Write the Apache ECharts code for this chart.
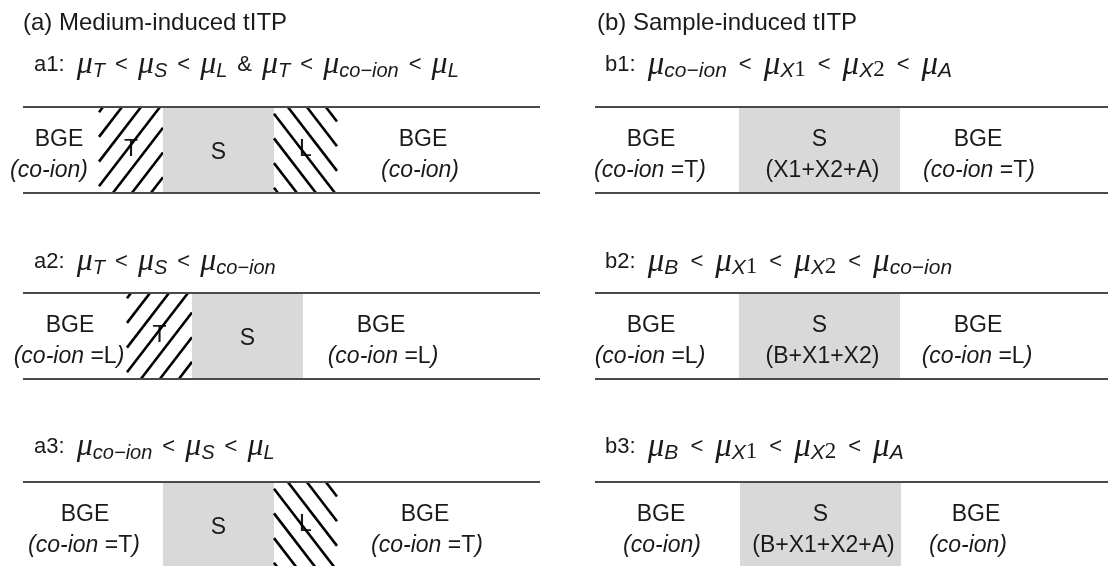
<!DOCTYPE html>
<html><head><meta charset="utf-8">
<script src="https://cdn.jsdelivr.net/npm/echarts@6/dist/echarts.min.js"></script>
<style>html,body{margin:0;padding:0;background:#fff}#c{width:1108px;height:566px}</style>
</head><body><div id="c"></div>
<script>
// ---------------- data ----------------
const panelTitles = ['(a) Medium-induced tITP', '(b) Sample-induced tITP'];
const caseIds = ['a1', 'a2', 'a3', 'b1', 'b2', 'b3'];
const caseConditions = [
  ['T', '<', 'S', '<', 'L', '&', 'T', '<', 'co−ion', '<', 'L'],
  ['T', '<', 'S', '<', 'co−ion'],
  ['co−ion', '<', 'S', '<', 'L'],
  ['co−ion', '<', 'X1', '<', 'X2', '<', 'A'],
  ['B', '<', 'X1', '<', 'X2', '<', 'co−ion'],
  ['B', '<', 'X1', '<', 'X2', '<', 'A']
];
// capillary extent along the separation axis for each case
const capillaryStart = [23, 23, 23, 595, 595, 595];
const capillaryEnd = [540, 540, 540, 1108, 1108, 1108];
// zones: which case, start, end, kind (T = terminator, S = sample, L = leader)
const zoneCase = [0, 0, 0, 1, 1, 2, 2, 3, 4, 5];
const zoneStart = [99, 163, 274, 127, 192, 163, 274, 739, 739, 740];
const zoneEnd = [163, 274, 337, 192, 303, 274, 337, 900, 900, 901];
const zoneKind = ['T', 'S', 'L', 'T', 'S', 'S', 'L', 'S', 'S', 'S'];
const zoneContent = ['', '', '', '', '', '', '', '(X1+X2+A)', '(B+X1+X2)', '(B+X1+X2+A)'];
// background electrolyte labels (left and right of each case)
const bgeCase = [0, 0, 1, 1, 2, 2, 3, 3, 4, 4, 5, 5];
const bgeAt = [59, 423, 70, 381, 85, 425, 651, 978, 651, 978, 661, 976];
const coIonAt = [49, 420, 69, 383, 84, 427, 650, 979, 650, 977, 662, 968];
const bgeCoIon = ['', '', 'L', 'L', 'T', 'T', 'T', 'T', 'L', 'L', '', ''];

// ---------------- layout ----------------
const W = 1108, H = 566;
const rowTop = [107, 293, 482, 107, 293, 482];
const rowH = 86;
const titleX = [23, 597], titleY = 23;
const condX = [34, 34, 34, 605, 605, 605];
const condY = [65, 262, 447, 65, 262, 447];
const INK = '#1a1a1a';
const SANS = 'Liberation Sans, Arial, sans-serif';
const SERIF = 'Liberation Serif, Times New Roman, serif';
const FS = 23;

const rich = {
  t: { fontFamily: SANS, fontSize: 24, color: INK },
  c: { fontFamily: SANS, fontSize: 22, color: INK },
  opA: { fontFamily: SANS, fontSize: 22, color: INK, padding: [0, 10, 0, 10] },
  opB: { fontFamily: SANS, fontSize: 22, color: INK, padding: [0, 12, 0, 12] },
  mA: { fontFamily: SERIF, fontStyle: 'italic', fontSize: 32, color: INK },
  mB: { fontFamily: SERIF, fontStyle: 'italic', fontSize: 33, color: INK },
  sA: { fontFamily: SANS, fontStyle: 'italic', fontSize: 20, color: INK, verticalAlign: 'bottom', lineHeight: 24 },
  sB: { fontFamily: SANS, fontStyle: 'italic', fontSize: 21, color: INK, verticalAlign: 'bottom', lineHeight: 24 },
  nB: { fontFamily: SERIF, fontSize: 23, color: INK, verticalAlign: 'bottom', lineHeight: 25 },
  i: { fontFamily: SANS, fontStyle: 'italic', fontSize: FS, color: INK },
  r: { fontFamily: SANS, fontSize: FS, color: INK }
};

function condRich(id, terms) {
  const P = id.charAt(0) === 'a' ? 'A' : 'B';
  let s = '{c|' + id + ':  }';
  terms.forEach(function (tm) {
    if (tm === '<' || tm === '&') { s += '{op' + P + '|' + tm + '}'; return; }
    const m = /^X(\d)$/.exec(tm);
    if (m) s += '{m' + P + '|μ}{s' + P + '|X}{n' + P + '|' + m[1] + '}';
    else s += '{m' + P + '|μ}{s' + P + '|' + tm + '}';
  });
  return s;
}
function coIonRich(v) {
  return v ? '{i|(co-ion }{r|=' + v + '}{i|)}' : '{i|(co-ion)}';
}

// text items
const texts = [];
panelTitles.forEach(function (t, i) { texts.push({ x: titleX[i], y: titleY, text: '{t|' + t + '}', align: 'left' }); });
caseIds.forEach(function (id, i) { texts.push({ x: condX[i], y: condY[i], text: condRich(id, caseConditions[i]), align: 'left' }); });
bgeCase.forEach(function (c, i) {
  texts.push({ x: bgeAt[i], y: rowTop[c] + 33, text: '{r|BGE}', align: 'center' });
  texts.push({ x: coIonAt[i], y: rowTop[c] + 64, text: coIonRich(bgeCoIon[i]), align: 'center' });
});
zoneKind.forEach(function (k, i) {
  if (k !== 'S') return;
  const cx = (zoneStart[i] + zoneEnd[i]) / 2, top = rowTop[zoneCase[i]];
  if (zoneContent[i]) {
    texts.push({ x: cx, y: top + 33, text: '{r|S}', align: 'center' });
    texts.push({ x: cx + 3, y: top + 64, text: '{r|' + zoneContent[i] + '}', align: 'center' });
  } else {
    texts.push({ x: cx, y: top + 46, text: '{r|S}', align: 'center' });
  }
});

// ---------------- render ----------------
const chart = echarts.init(document.getElementById('c'), null, { renderer: 'canvas' });

function hatchLines(x0, y0, x1, y1, dir) {
  const h = y1 - y0, k = 1.3, w = h / k, step = 19;
  const out = [];
  for (let c = x0 - w + 4; c < x1; c += step) {
    let t0 = Math.max(0, (x0 - c) / w), t1 = Math.min(1, (x1 - c) / w);
    if (t1 - t0 < 0.02) continue;
    let ax, ay, bx, by;
    if (dir === 'up') { ax = c + t0 * w; ay = y1 - t0 * h; bx = c + t1 * w; by = y1 - t1 * h; }
    else { ax = c + t0 * w; ay = y0 + t0 * h; bx = c + t1 * w; by = y0 + t1 * h; }
    out.push({ type: 'line', shape: { x1: ax, y1: ay, x2: bx, y2: by },
      style: { stroke: '#000', lineWidth: 2.6, lineCap: 'butt' } });
  }
  return out;
}

const option = {
  animation: false,
  backgroundColor: '#fff',
  grid: { left: 0, right: 0, top: 0, bottom: 0 },
  xAxis: { type: 'value', min: 0, max: W, show: false },
  yAxis: { type: 'value', min: 0, max: H, inverse: true, show: false },
  series: [
    {
      type: 'custom', name: 'zones', clip: false, z: 1,
      data: zoneStart.map(function (s, i) { return [s, zoneEnd[i], rowTop[zoneCase[i]]]; }),
      renderItem: function (params, api) {
        const i = params.dataIndex;
        const p0 = api.coord([api.value(0), api.value(2)]);
        const p1 = api.coord([api.value(1), api.value(2) + rowH]);
        const kind = zoneKind[i];
        if (kind === 'S') {
          return { type: 'rect', shape: { x: p0[0], y: p0[1], width: p1[0] - p0[0], height: p1[1] - p0[1] },
            style: { fill: '#d9d9d9' } };
        }
        const children = [{ type: 'text', style: { text: kind, x: (p0[0] + p1[0]) / 2, y: (p0[1] + p1[1]) / 2,
          align: 'center', verticalAlign: 'middle', font: FS + 'px ' + SANS, fill: INK } }];
        return { type: 'group', children: children.concat(hatchLines(p0[0], p0[1], p1[0], p1[1], kind === 'T' ? 'up' : 'down')) };
      }
    },
    {
      type: 'custom', name: 'walls', clip: false, z: 2,
      data: caseIds.map(function (id, i) { return [capillaryStart[i], capillaryEnd[i], rowTop[i]]; }),
      renderItem: function (params, api) {
        const a = api.coord([api.value(0), api.value(2)]);
        const b = api.coord([api.value(1), api.value(2)]);
        const c = api.coord([api.value(0), api.value(2) + rowH]);
        const d = api.coord([api.value(1), api.value(2) + rowH]);
        const st = { stroke: '#4a4a4a', lineWidth: 2 };
        return { type: 'group', children: [
          { type: 'line', shape: { x1: a[0], y1: a[1], x2: b[0], y2: b[1] }, style: st },
          { type: 'line', shape: { x1: c[0], y1: c[1], x2: d[0], y2: d[1] }, style: st }
        ] };
      }
    },
    {
      type: 'custom', name: 'labels', clip: false, z: 3,
      data: texts.map(function (t) { return [t.x, t.y]; }),
      renderItem: function (params, api) {
        const t = texts[params.dataIndex];
        const p = api.coord([api.value(0), api.value(1)]);
        return { type: 'text', style: { text: t.text, rich: rich, x: p[0], y: p[1], align: t.align,
          verticalAlign: 'middle', font: FS + 'px ' + SANS, fill: INK } };
      }
    }
  ]
};
chart.setOption(option);
</script>
</body></html>
